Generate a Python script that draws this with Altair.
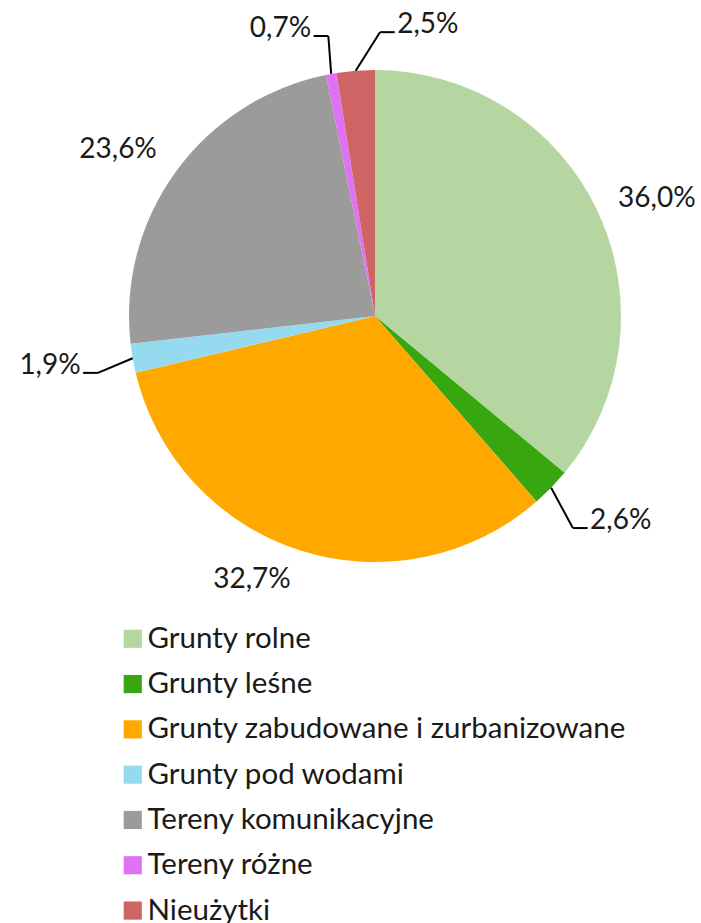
import altair as alt
import pandas as pd

# ---- data ----
categories = ["Grunty rolne", "Grunty leśne", "Grunty zabudowane i zurbanizowane",
              "Grunty pod wodami", "Tereny komunikacyjne", "Tereny różne", "Nieużytki"]
shares = [36.0, 2.6, 32.7, 1.9, 23.6, 0.7, 2.5]
labels = ["36,0%", "2,6%", "32,7%", "1,9%", "23,6%", "0,7%", "2,5%"]

# ---- style ----
colors = ["#B5D6A0", "#38A60E", "#FFA800", "#96DAF0", "#9B9B9B", "#DE72F2", "#CE6464"]
# label placement in units of pie radius, angle offset (deg) from slice middle
lab_r = [1.24, 1.179, 1.183, 1.150, 1.244, 1.154, 1.154]
ang_off = [2.7, 2.7, 7.2, -1.7, -3.1, 0.8, 5.5]
side = ["center", "left", "center", "right", "center", "right", "left"]

CX, CY, R = 375, 316, 246
W, H = 701, 923
FONT = "Lato"
FS = 28
TXT = "#1A1A1A"

df = pd.DataFrame({
    "idx": list(range(len(categories))),
    "category": categories,
    "share": shares,
    "label": labels,
    "lab_r": lab_r,
    "ang_off": ang_off,
    "side": side,
})

xs = alt.Scale(domain=[-CX / R, (W - CX) / R], range=[0, W], nice=False, zero=False)
ys = alt.Scale(domain=[-CY / R, (H - CY) / R], range=[0, H], nice=False, zero=False)

pie = alt.Chart(df).mark_arc(radius=R, stroke=None).encode(
    theta=alt.Theta("share:Q", stack=True),
    order=alt.Order("idx:Q"),
    color=alt.Color(
        "category:N",
        scale=alt.Scale(domain=categories, range=colors),
        legend=alt.Legend(
            title=None, orient="none", legendX=118, legendY=624,
            symbolType="square", symbolSize=330, symbolStrokeWidth=0,
            labelFont=FONT, labelFontSize=29.5, labelColor=TXT,
            labelOffset=0, rowPadding=14.3, padding=0, labelLimit=650,
        ),
    ),
    x=alt.value(CX),
    y=alt.value(CY),
)

base = alt.Chart(df).transform_window(
    cum="sum(share)", sort=[alt.SortField("idx")], frame=[None, 0]
).transform_joinaggregate(
    total="sum(share)"
).transform_calculate(
    mid="(datum.cum - datum.share / 2) / datum.total * 2 * PI",
    la="datum.mid + datum.ang_off * PI / 180",
    ex="sin(datum.mid)",
    ey="-cos(datum.mid)",
    lx="datum.lab_r * sin(datum.la)",
    ly="-datum.lab_r * cos(datum.la)",
    sgn="datum.side == 'left' ? 1 : (datum.side == 'right' ? -1 : 0)",
    tx="datum.lx + datum.sgn * 0.06",
    txt_x="datum.lx + datum.sgn * 0.07",
)

center_lbl = base.transform_filter("datum.side == 'center'").mark_text(
    font=FONT, fontSize=FS, color=TXT, align="center", baseline="middle"
).encode(
    x=alt.X("lx:Q", scale=xs, axis=None),
    y=alt.Y("ly:Q", scale=ys, axis=None),
    text="label:N",
)

lead = base.transform_filter("datum.side != 'center'")

seg1 = lead.mark_rule(color="#000000", strokeWidth=2).encode(
    x=alt.X("ex:Q", scale=xs, axis=None),
    y=alt.Y("ey:Q", scale=ys, axis=None),
    x2="lx:Q",
    y2="ly:Q",
)
seg2 = lead.mark_rule(color="#000000", strokeWidth=2).encode(
    x=alt.X("lx:Q", scale=xs, axis=None),
    y=alt.Y("ly:Q", scale=ys, axis=None),
    x2="tx:Q",
    y2="ly:Q",
)

left_lbl = lead.transform_filter("datum.side == 'left'").mark_text(
    font=FONT, fontSize=FS, color=TXT, align="left", baseline="alphabetic", dy=1
).encode(
    x=alt.X("txt_x:Q", scale=xs, axis=None),
    y=alt.Y("ly:Q", scale=ys, axis=None),
    text="label:N",
)
right_lbl = lead.transform_filter("datum.side == 'right'").mark_text(
    font=FONT, fontSize=FS, color=TXT, align="right", baseline="alphabetic", dy=1
).encode(
    x=alt.X("txt_x:Q", scale=xs, axis=None),
    y=alt.Y("ly:Q", scale=ys, axis=None),
    text="label:N",
)

chart = alt.layer(pie, seg1, seg2, center_lbl, left_lbl, right_lbl).properties(
    width=W, height=H, autosize=alt.AutoSizeParams(type="none"), padding=0,
).configure_view(stroke=None)

chart.save("out.html", embed_options={"renderer": "svg", "actions": False})
